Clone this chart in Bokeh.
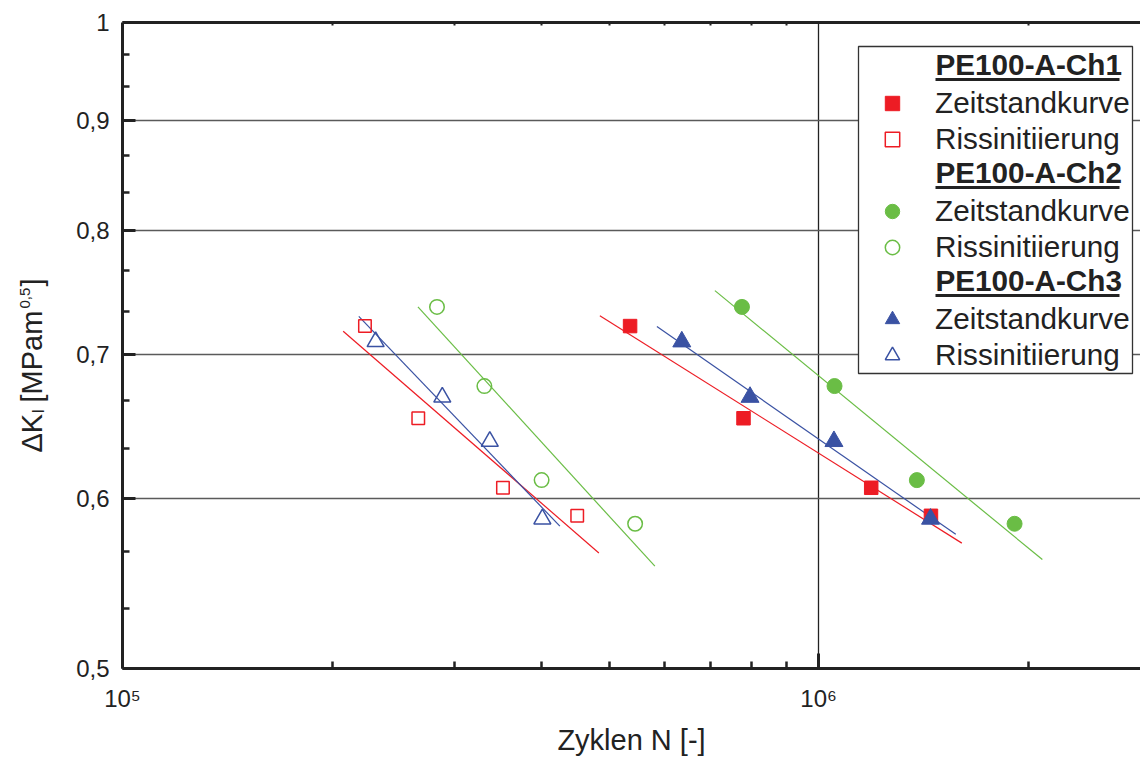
import math
from bokeh.plotting import figure
from bokeh.layouts import row
from bokeh.models import (Range1d, FixedTicker, LogAxis, Legend, LegendItem,
                          Label, BoxAnnotation)
from bokeh.embed import file_html
from bokeh.resources import INLINE

# ---------------- data ----------------
# PE100-A-Ch1
ch1_zeit_N = [5.36e5, 7.80e5, 1.19e6, 1.45e6]
ch1_zeit_K = [0.722, 0.654, 0.607, 0.589]
ch1_riss_N = [2.23e5, 2.66e5, 3.52e5, 4.50e5]
ch1_riss_K = [0.722, 0.654, 0.607, 0.589]
# PE100-A-Ch2
ch2_zeit_N = [7.76e5, 1.054e6, 1.384e6, 1.912e6]
ch2_zeit_K = [0.737, 0.677, 0.612, 0.584]
ch2_riss_N = [2.83e5, 3.31e5, 4.00e5, 5.45e5]
ch2_riss_K = [0.737, 0.677, 0.612, 0.584]
# PE100-A-Ch3
ch3_zeit_N = [6.36e5, 7.97e5, 1.052e6, 1.448e6]
ch3_zeit_K = [0.710, 0.669, 0.638, 0.587]
ch3_riss_N = [2.31e5, 2.88e5, 3.37e5, 4.01e5]
ch3_riss_K = [0.710, 0.669, 0.638, 0.587]

# fitted lines (end points)
fit_ch1_zeit_N = [4.85e5, 1.606e6]
fit_ch1_zeit_K = [0.730, 0.572]
fit_ch1_riss_N = [2.075e5, 4.834e5]
fit_ch1_riss_K = [0.718, 0.566]
fit_ch2_zeit_N = [7.096e5, 2.096e6]
fit_ch2_zeit_K = [0.750, 0.562]
fit_ch2_riss_N = [2.657e5, 5.818e5]
fit_ch2_riss_K = [0.737, 0.558]
fit_ch3_zeit_N = [5.857e5, 1.574e6]
fit_ch3_zeit_K = [0.7216, 0.5774]
fit_ch3_riss_N = [2.185e5, 4.249e5]
fit_ch3_riss_K = [0.7295, 0.5825]

x_major = [1e5, 1e6]
x_minor = [2e5, 3e5, 4e5, 5e5, 6e5, 7e5, 8e5, 9e5, 2e6]
x_labels = {1e5: "10\u2075", 1e6: "10\u2076"}
y_major = [0.5, 0.6, 0.7, 0.8, 0.9, 1.0]
y_minor = [0.5 + k / 30 for k in range(1, 15) if k % 3 != 0]
y_labels = {0.5: "0,5", 0.6: "0,6", 0.7: "0,7", 0.8: "0,8", 0.9: "0,9", 1.0: "1"}
x_lo, x_hi = 1e5, 2.9e6
y_lo, y_hi = 0.5, 1.0

x_title = "Zyklen N [-]"
y_title_parts = ["\u0394K", "I", "[MPam", "0,5", "]"]
series_names = ["PE100-A-Ch1", "PE100-A-Ch2", "PE100-A-Ch3"]
item_names = ["Zeitstandkurve", "Rissinitiierung"]

RED = "#ED1C24"
GREEN = "#6ABD45"
BLUE = "#3A52A3"
TXT = "#222222"
FONT = "Liberation Sans"

LEFT_W = 60

p = figure(width=1140 - LEFT_W, height=760, x_axis_type="log", y_axis_type="log",
           x_range=Range1d(x_lo, x_hi), y_range=Range1d(y_lo, y_hi),
           output_backend="svg", toolbar_location=None,
           min_border_left=122 - LEFT_W, min_border_right=0, min_border_top=22,
           min_border_bottom=92)
p.outline_line_color = None
p.background_fill_color = "white"
p.border_fill_color = "white"

# axes
xa = p.xaxis[0]
ya = p.yaxis[0]
xa.ticker = FixedTicker(ticks=x_major, minor_ticks=x_minor)
ya.ticker = FixedTicker(ticks=y_major, minor_ticks=y_minor)
xa.major_label_overrides = x_labels
ya.major_label_overrides = y_labels
for ax in (xa, ya):
    ax.axis_line_width = 3
    ax.axis_line_color = TXT
    ax.major_tick_line_width = 3
    ax.minor_tick_line_width = 2.5
    ax.major_tick_line_color = TXT
    ax.minor_tick_line_color = TXT
    ax.major_tick_out = 0
    ax.minor_tick_out = 0
    ax.major_label_text_font = FONT
    ax.major_label_text_font_size = "24px"
    ax.major_label_text_color = TXT
xa.major_tick_in = 15
xa.minor_tick_in = 7
ya.major_tick_in = 13
ya.minor_tick_in = 7
xa.major_label_standoff = 16
ya.major_label_standoff = 13
xa.axis_label = x_title
xa.axis_label_text_font = FONT
xa.axis_label_text_font_size = "29px"
xa.axis_label_text_font_style = "normal"
xa.axis_label_text_color = TXT
xa.axis_label_standoff = 9

top = LogAxis(ticker=FixedTicker(ticks=x_major, minor_ticks=x_minor),
              axis_line_width=3, axis_line_color=TXT,
              major_tick_in=0, major_tick_out=0, minor_tick_in=3, minor_tick_out=0,
              minor_tick_line_width=2, minor_tick_line_color=TXT,
              major_label_text_font_size="2px", major_label_text_alpha=0,
              major_label_standoff=0)
p.add_layout(top, "above")

# grid
p.xgrid.ticker = FixedTicker(ticks=x_major)
p.ygrid.ticker = FixedTicker(ticks=y_major)
p.xgrid.grid_line_color = "#222222"
p.xgrid.grid_line_width = 1.3
p.ygrid.grid_line_color = "#5a5a5a"
p.ygrid.grid_line_width = 1.5

# fit lines
p.line(fit_ch1_zeit_N, fit_ch1_zeit_K, line_color=RED, line_width=1.2)
p.line(fit_ch1_riss_N, fit_ch1_riss_K, line_color=RED, line_width=1.2)
p.line(fit_ch2_zeit_N, fit_ch2_zeit_K, line_color=GREEN, line_width=1.2)
p.line(fit_ch2_riss_N, fit_ch2_riss_K, line_color=GREEN, line_width=1.2)
p.line(fit_ch3_zeit_N, fit_ch3_zeit_K, line_color=BLUE, line_width=1.2)
p.line(fit_ch3_riss_N, fit_ch3_riss_K, line_color=BLUE, line_width=1.2)

# markers
r1z = p.scatter(ch1_zeit_N, ch1_zeit_K, marker="square", size=13.5,
                fill_color=RED, line_color=RED)
r1r = p.scatter(ch1_riss_N, ch1_riss_K, marker="square", size=12.5,
                fill_color=None, line_color=RED, line_width=1.5)
r2z = p.scatter(ch2_zeit_N, ch2_zeit_K, marker="circle", size=15,
                fill_color=GREEN, line_color=GREEN)
r2r = p.scatter(ch2_riss_N, ch2_riss_K, marker="circle", size=14.5,
                fill_color=None, line_color=GREEN, line_width=1.5)
r3z = p.scatter(ch3_zeit_N, ch3_zeit_K, marker="triangle", size=18,
                fill_color=BLUE, line_color=BLUE)
r3r = p.scatter(ch3_riss_N, ch3_riss_K, marker="triangle", size=17,
                fill_color=None, line_color=BLUE, line_width=1.5)

# legend frame (drawn as a box so the headers can sit on top of it)
p.add_layout(BoxAnnotation(left=736, right=1010, bottom=295, top=622,
                           left_units="screen", right_units="screen",
                           top_units="screen", bottom_units="screen",
                           fill_color="white", fill_alpha=1.0,
                           line_color="#333333", line_width=1.3, line_alpha=1.0,
                           level="annotation"))

items = [
    LegendItem(label=" ", renderers=[]),
    LegendItem(label=item_names[0], renderers=[r1z]),
    LegendItem(label=item_names[1], renderers=[r1r]),
    LegendItem(label=" ", renderers=[]),
    LegendItem(label=item_names[0], renderers=[r2z]),
    LegendItem(label=item_names[1], renderers=[r2r]),
    LegendItem(label=" ", renderers=[]),
    LegendItem(label=item_names[0], renderers=[r3z]),
    LegendItem(label=item_names[1], renderers=[r3r]),
]
legend = Legend(items=items, location=(736, 295), margin=0, padding=0,
                spacing=0, label_height=36, glyph_height=36, glyph_width=68,
                label_standoff=9, label_width=197,
                label_text_font=FONT, label_text_font_size="29.7px",
                label_text_color=TXT, border_line_color=None,
                background_fill_alpha=0.0)
p.add_layout(legend)

# legend headers (bold, underlined)
for k, name in enumerate(series_names):
    yc = 604 - 108 * k
    p.add_layout(Label(x=813, y=yc, x_units="screen", y_units="screen",
                       text=name, text_font=FONT, text_font_size="29.7px",
                       text_font_style="bold", text_color=TXT,
                       text_baseline="middle", text_align="left", level="overlay"))
    p.add_layout(BoxAnnotation(left=813, right=997, bottom=yc - 16.5, top=yc - 13.5,
                               left_units="screen", right_units="screen",
                               top_units="screen", bottom_units="screen",
                               fill_color=TXT, fill_alpha=1.0, line_color=None,
                               level="overlay"))

# left strip carrying the rotated y-axis title (with sub/superscript)
lf = figure(width=LEFT_W, height=760, x_range=Range1d(0, LEFT_W), y_range=Range1d(0, 760),
            output_backend="svg", toolbar_location=None,
            x_axis_location=None, y_axis_location=None,
            min_border_left=0, min_border_right=0, min_border_top=0, min_border_bottom=0)
lf.outline_line_color = None
lf.xgrid.visible = False
lf.ygrid.visible = False
lf.background_fill_color = "white"
lf.border_fill_color = "white"

ang = math.pi / 2
y_title_pos = [(31, 216, "29px"), (38, 255, "16px"), (31, 266, "29px"),
               (24, 360, "15px"), (31, 382, "29px")]
for txt, (xx, yy, fs) in zip(y_title_parts, y_title_pos):
    lf.add_layout(Label(x=xx, y=yy, x_units="screen", y_units="screen", angle=ang,
                        text=txt, text_font=FONT,
                        text_font_size=fs, text_color=TXT,
                        text_align="left", text_baseline="alphabetic"))

layout = row(lf, p, spacing=0)
open("out.html", "w").write(file_html(layout, INLINE))
